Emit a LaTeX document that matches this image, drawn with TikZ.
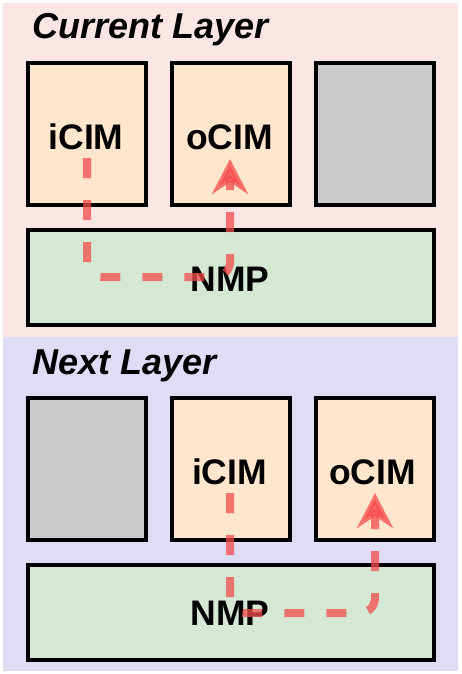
\documentclass[tikz,border=0pt]{standalone}
\usepackage{fontspec}
\setmainfont{Liberation Sans}
\usetikzlibrary{arrows.meta,calc}
\definecolor{pinkbg}{RGB}{251,229,229}
\definecolor{lavbg}{RGB}{222,221,245}
\definecolor{peach}{RGB}{255,230,204}
\definecolor{grayfill}{RGB}{204,204,204}
\definecolor{greenfill}{RGB}{213,232,212}
\definecolor{flow}{RGB}{245,75,75}
\tikzset{
  box/.style={draw=black, line width=4pt, inner sep=0pt, minimum width=118pt, minimum height=142pt},
  cim/.style={box, fill=peach},
  idle/.style={box, fill=grayfill},
  nmp/.style={draw=black, line width=4pt, fill=greenfill, inner sep=0pt, minimum width=406pt, minimum height=95pt},
  lbl/.style={font=\fontsize{35.5}{35.5}\bfseries\selectfont, anchor=base, inner sep=0pt},
  title/.style={font=\fontsize{36}{36}\bfseries\itshape\selectfont, anchor=base west, inner sep=0pt},
  flowline/.style={draw=flow, line width=8pt, draw opacity=0.75, fill opacity=0.75, dash pattern=on 20pt off 22pt, rounded corners=15pt, -{Stealth[length=35pt,width=36pt,inset=12pt,fill=flow]}}
}
\begin{document}
\begin{tikzpicture}[x=1pt,y=-1pt]
\useasboundingbox (0,0) rectangle (461,674);
\fill[white] (0,0) rectangle (461,674);
\fill[pinkbg] (3,3) rectangle (458,337);
\fill[lavbg] (3,337) rectangle (458,671);
% current layer
\node[title] (t1) at (32,39) {Current Layer};
\node[cim] (ci1) at (87,134) {};
\node[cim] (co1) at (230.5,134) {};
\node[idle] (cg1) at (374.5,134) {};
\node[nmp] (cn1) at (231,277.5) {};
\node[lbl] (li1) at (86,149) {iCIM};
\node[lbl] (lo1) at (229.5,149) {oCIM};
\node[lbl] (ln1) at (230,291) {NMP};
\coordinate (s1) at (87,158);
\coordinate (e1) at (230,159);
\draw[flowline] (s1) |- (230,277) -- (e1);
% next layer
\node[title] (t2) at (32,374) {Next Layer};
\node[idle] (ng2) at (87,469) {};
\node[cim] (ni2) at (230.5,469) {};
\node[cim] (no2) at (374.5,469) {};
\node[nmp] (nn2) at (231,612.5) {};
\node[lbl] (li2) at (229.5,484) {iCIM};
\node[lbl] (lo2) at (372.5,484) {oCIM};
\node[lbl] (ln2) at (230,625) {NMP};
\coordinate (s2) at (230,493);
\coordinate (e2) at (375,493);
\draw[flowline] (s2) |- (375,613) -- (e2);
\end{tikzpicture}
\end{document}
